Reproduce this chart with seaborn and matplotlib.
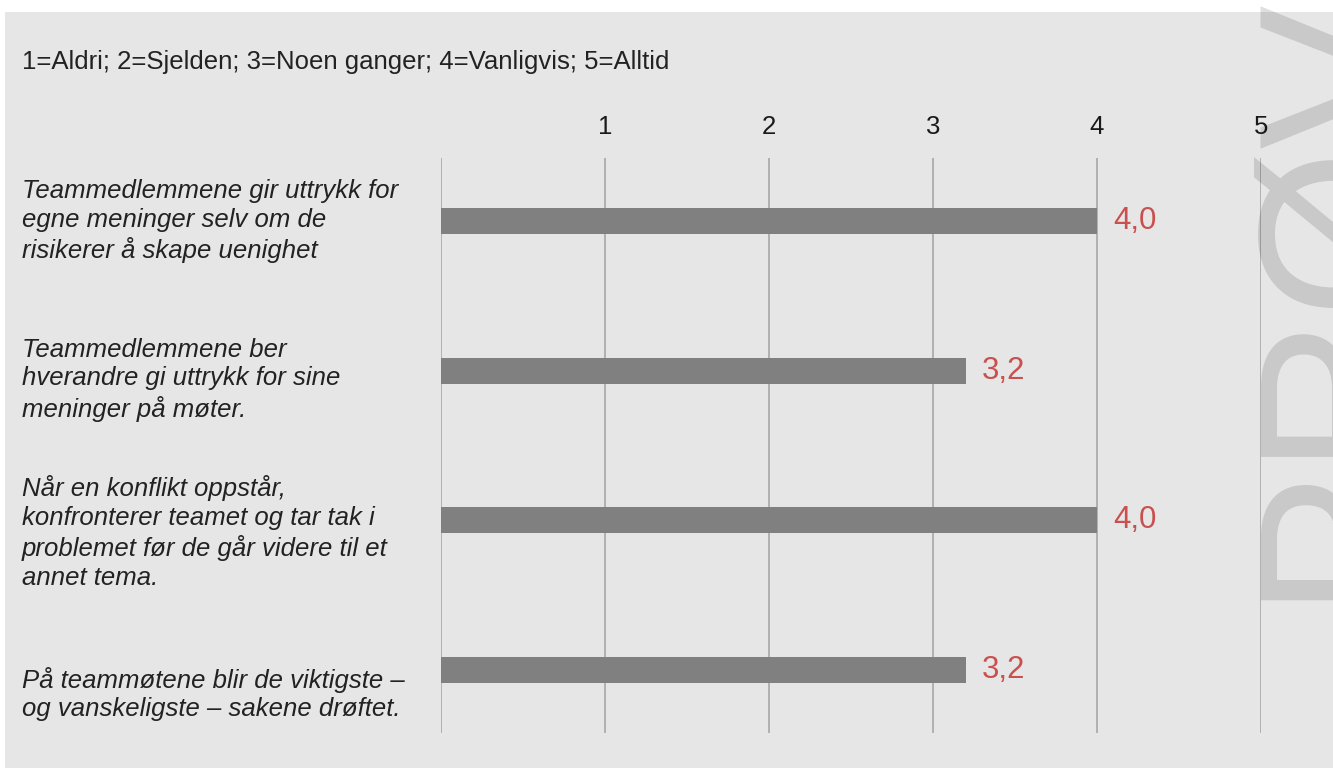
import matplotlib
matplotlib.use('Agg')
import matplotlib.pyplot as plt
import matplotlib.transforms as mtransforms
from matplotlib.patches import Rectangle
import seaborn as sns
import pandas as pd

# data
statements = [
    "Teammedlemmene gir uttrykk for\negne meninger selv om de\nrisikerer å skape uenighet",
    "Teammedlemmene ber\nhverandre gi uttrykk for sine\nmeninger på møter.",
    "Når en konflikt oppstår,\nkonfronterer teamet og tar tak i\nproblemet før de går videre til et\nannet tema.",
    "På teammøtene blir de viktigste –\nog vanskeligste – sakene drøftet.",
]
scores = [4.0, 3.2, 4.0, 3.2]
scale_ticks = [0, 1, 2, 3, 4, 5]
scale_labels = ['', '1', '2', '3', '4', '5']
scale_text = "1=Aldri; 2=Sjelden; 3=Noen ganger; 4=Vanligvis; 5=Alltid"
watermark = "PRØV"

# small vertical nudges of the statement blocks (in bar units)
label_nudge = [0.0, 0.06, 0.08, 0.16]


def draw_figure():
    sns.set_style("white")
    plt.rcParams['font.family'] = ['Liberation Sans', 'DejaVu Sans']

    W, H = 1333, 778
    fig = plt.figure(figsize=(W / 100, H / 100), dpi=100, facecolor='white')

    # grey panel
    fig.patches.append(Rectangle((5 / W, 1 - 768 / H), (W - 5) / W, (768 - 12) / H,
                                 transform=fig.transFigure, facecolor='#e6e6e6',
                                 edgecolor='none', zorder=-5))

    ax = fig.add_axes([441 / W, 1 - 733 / H, 820 / W, (733 - 158) / H])
    ax.set_facecolor('none')
    ax.set_zorder(2)

    df = pd.DataFrame({'statement': statements, 'score': scores})
    sns.barplot(data=df, x='score', y='statement', orient='h', color='#808080',
                width=0.175, saturation=1, ax=ax, zorder=3, linewidth=0,
                edgecolor='none')

    ax.set_xlim(0, 5)
    ax.set_ylim(3.42, -0.42)
    ax.set_xticks(scale_ticks)
    ax.set_xticklabels(scale_labels)
    ax.xaxis.tick_top()
    ax.tick_params(axis='x', length=0, pad=13.5, labelsize=18.5, colors='#1a1a1a')
    ax.set_yticks([])
    ax.set_xlabel('')
    ax.set_ylabel('')
    for s in ax.spines.values():
        s.set_visible(False)
    for t in scale_ticks:
        ax.axvline(t, color='#b0b0b0', linewidth=1.4, zorder=1)

    # value labels
    for i, v in enumerate(scores):
        ax.text(v + 0.1, i, f"{v:.1f}".replace('.', ','), va='center', ha='left',
                fontsize=22.5, color='#c9504f')

    # statements on the left
    trans = mtransforms.blended_transform_factory(fig.transFigure, ax.transData)
    for i, s in enumerate(statements):
        ax.text(22 / W, i + label_nudge[i], s, transform=trans, ha='left', va='center',
                fontsize=18.5, style='italic', color='#222222', linespacing=1.25)

    fig.text(22 / W, 1 - 62 / H, scale_text, ha='left', va='center', fontsize=18.5,
             color='#222222')

    # watermark
    fig.text(1236 / W, 1 - 600 / H, watermark, rotation=90, ha='left', va='bottom',
             fontsize=156, color='black', alpha=0.13, zorder=10)

    return fig


fig = draw_figure()
fig.savefig('out.png', dpi=100)
